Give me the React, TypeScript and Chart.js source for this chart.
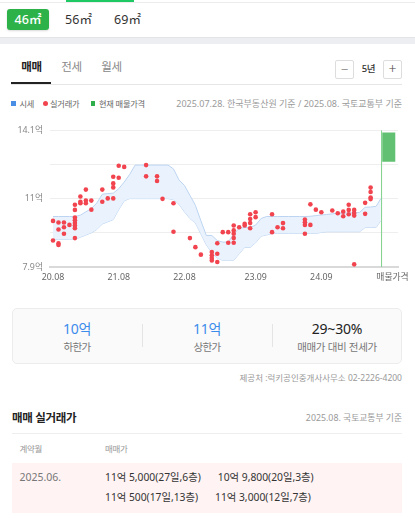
import React, { useEffect, useRef } from 'react';
import { Chart, registerables } from 'chart.js';

Chart.register(...registerables);

const FONT = "'Noto Sans', 'Noto Sans CJK KR', sans-serif";

// x axis: months since 2020.08 (0 = 20.08)
const xTickValues = [0, 12, 24, 37, 49, 62];
const xTickLabels = ['20.08', '21.08', '22.08', '23.09', '24.09', '매물가격'];
const yTickValues = [7.9, 9.45, 11, 12.55, 14.1];
const yTickLabels = ['7.9억', '', '11억', '', '14.1억'];
const yMin = 7.9;
const yMax = 14.1;

// 시세 band (억)
const bandMonths = [0, 1, 2, 3, 4, 5, 6, 7, 8, 9, 10, 11, 12, 13, 14, 15, 16, 17, 18, 19, 20, 21, 22, 23, 24, 25, 26, 27, 28, 29, 30, 31, 32, 33, 34, 35, 36, 37, 38, 39, 40, 41, 42, 43, 44, 45, 46, 47, 48, 49, 50, 51, 52, 53, 54, 55, 56, 57, 58, 59, 59.85];
const bandUpper = [10.19, 10.19, 10.19, 10.19, 10.19, 10.25, 10.4, 10.55, 10.8, 11.2, 11.23, 11.25, 11.45, 11.75, 12.1, 12.52, 12.52, 12.52, 12.52, 12.52, 12.52, 12.52, 12.35, 11.85, 11.6, 11.15, 10.7, 10.0, 9.33, 9.33, 9.1, 9.03, 9.03, 9.4, 9.65, 9.69, 9.69, 9.8, 10.1, 10.19, 10.19, 10.19, 10.19, 10.19, 10.19, 10.19, 10.19, 10.2, 10.23, 10.26, 10.28, 10.31, 10.35, 10.35, 10.35, 10.35, 10.38, 10.61, 10.62, 10.65, 11.0];
const bandLower = [9.15, 9.15, 9.15, 9.15, 9.15, 9.25, 9.35, 9.45, 9.6, 9.85, 9.95, 10.05, 10.5, 10.9, 11.0, 11.0, 11.0, 11.0, 11.0, 11.0, 11.0, 11.0, 10.95, 10.75, 10.4, 10.1, 9.9, 9.4, 8.9, 8.55, 8.3, 8.2, 8.2, 8.2, 8.5, 8.79, 8.79, 9.0, 9.3, 9.35, 9.42, 9.42, 9.42, 9.42, 9.42, 9.42, 9.42, 9.42, 9.42, 9.47, 9.5, 9.5, 9.5, 9.5, 9.5, 9.5, 9.5, 9.69, 9.69, 9.69, 10.0];

// 실거래가 (month index, price 억)
const tradeMonths = [
  0, 0,
  1, 1, 1, 1,
  2, 2, 2,
  3,
  4, 4, 4, 4, 4, 4, 4, 4,
  5, 5, 5,
  6, 6, 6,
  7, 7,
  9, 9,
  10,
  11, 11, 11, 11,
  12, 12,
  13,
  17, 17,
  19, 19,
  20,
  22, 22,
  25, 26, 27,
  29, 29, 29, 29,
  30, 30, 30,
  31,
  32, 32,
  33, 33, 33, 33, 33,
  34,
  35, 35,
  36, 36, 36, 36,
  37, 37,
  40, 40,
  41,
  42, 42,
  46, 46, 46, 46,
  47, 47,
  48, 49, 51, 52,
  53, 53,
  54, 54, 54,
  55, 55, 55, 55,
  57, 57,
  58, 58, 58, 58,
];
const tradePrices = [
  9.99, 9.1,
  9.92, 9.6, 8.97, 8.9,
  9.92, 9.7, 9.41,
  9.81,
  10.72, 10.49, 10.14, 10.02, 9.9, 9.78, 9.66, 9.21,
  11.1, 10.86, 10.79,
  11.41, 10.91, 10.79,
  10.91, 10.5,
  11.41, 10.86,
  11.01,
  11.99, 11.69, 11.51, 11.01,
  12.49, 11.95,
  12.44,
  12.52, 12.01,
  12.01, 11.8,
  10.99,
  10.79, 9.5,
  9.21, 8.8, 8.46,
  8.58, 8.43, 8.31, 8.2,
  8.98, 8.5, 8.13,
  9.48,
  9.48, 9.0,
  9.78, 9.56, 9.41, 9.21, 9.0,
  9.7,
  9.86, 9.78,
  10.29, 10.08, 9.89, 9.66,
  10.38, 10.16,
  10.29, 9.48,
  9.7,
  9.89, 9.66,
  10.05, 9.93, 9.81, 9.41,
  10.74, 9.81,
  10.5, 10.38, 10.46, 10.34,
  10.41, 10.2,
  10.72, 10.49, 10.29,
  10.49, 10.35, 10.23, 8.02,
  10.81, 10.31,
  11.5, 11.3, 11.05, 10.98,
];

// 현재 매물가격
const currentMonth = 60; // 2025.08
const listingLow = 12.67;
const listingHigh = 14.0;
const listingSpan = [60.1, 62.55];

// summary / table
const lowerLimit = '10억';
const upperLimit = '11억';
const jeonseRatio = '29~30%';
const dealMonth = '2025.06.';
const dealRows = [
  ['11억 5,000(27일,6층)', '10억 9,800(20일,3층)'],
  ['11억 500(17일,13층)', '11억 3,000(12일,7층)'],
];

function PriceChart() {
  const ref = useRef<HTMLCanvasElement>(null);
  useEffect(() => {
    const canvas = ref.current;
    if (!canvas) return;
    const tickFont = { size: 8.8, family: FONT };
    const chart = new Chart(canvas, {
      type: 'line',
      data: {
        datasets: [
          {
            label: '실거래가',
            data: tradeMonths.map((m, i) => ({ x: m, y: tradePrices[i] })),
            showLine: false,
            pointRadius: 2.3,
            pointBackgroundColor: '#f1444f',
            pointBorderWidth: 0,
            order: 0,
          },
          {
            label: '시세 상한',
            data: bandMonths.map((m, i) => ({ x: m, y: bandUpper[i] })),
            borderColor: '#bcd4f1',
            borderWidth: 1,
            pointRadius: 0,
            tension: 0,
            fill: '+1',
            backgroundColor: 'rgba(232,242,253,0.9)',
            order: 1,
          },
          {
            label: '시세 하한',
            data: bandMonths.map((m, i) => ({ x: m, y: bandLower[i] })),
            borderColor: '#bcd4f1',
            borderWidth: 1,
            pointRadius: 0,
            tension: 0,
            fill: false,
            order: 2,
          },
          {
            label: '현재',
            data: [{ x: currentMonth, y: yMin }, { x: currentMonth, y: yMax }],
            borderColor: '#7fd08a',
            borderWidth: 1,
            pointRadius: 0,
            fill: false,
            order: 3,
          },
          {
            label: '매물 상한',
            data: [{ x: listingSpan[0], y: listingHigh }, { x: listingSpan[1], y: listingHigh }],
            borderWidth: 0,
            borderColor: 'rgba(0,0,0,0)',
            pointRadius: 0,
            fill: '+1',
            backgroundColor: '#62c072',
            order: 4,
          },
          {
            label: '매물 하한',
            data: [{ x: listingSpan[0], y: listingLow }, { x: listingSpan[1], y: listingLow }],
            borderWidth: 0,
            borderColor: 'rgba(0,0,0,0)',
            pointRadius: 0,
            fill: false,
            order: 5,
          },
        ],
      },
      options: {
        animation: false,
        responsive: false,
        devicePixelRatio: 1,
        events: [],
        layout: { padding: { top: 11, right: 17, bottom: 0, left: 0 } },
        plugins: { legend: { display: false }, tooltip: { enabled: false } },
        scales: {
          x: {
            type: 'linear',
            min: -0.55,
            max: 63,
            offset: false,
            grid: { display: false, drawTicks: false },
            border: { display: true, color: '#d9d9d9', width: 2 },
            afterBuildTicks: (s: any) => {
              s.ticks = xTickValues.map((v) => ({ value: v }));
            },
            afterFit: (s: any) => {
              s.height = 23;
            },
            ticks: {
              autoSkip: false,
              maxRotation: 0,
              padding: 5,
              color: '#666',
              font: tickFont,
              callback: (_v: any, i: number) => xTickLabels[i],
            },
          },
          y: {
            type: 'linear',
            min: yMin,
            max: yMax,
            grid: { color: '#eeeeee', drawTicks: false },
            border: { display: false },
            afterBuildTicks: (s: any) => {
              s.ticks = yTickValues.map((v) => ({ value: v }));
            },
            afterFit: (s: any) => {
              s.width = 50;
            },
            ticks: {
              padding: 7,
              color: '#888',
              font: tickFont,
              callback: (_v: any, i: number) => yTickLabels[i],
            },
          },
        },
      } as any,
    });
    return () => chart.destroy();
  }, []);
  return (
    <canvas
      ref={ref}
      width={415}
      height={172}
      style={{ position: 'absolute', left: 0, top: 118, width: 415, height: 172 }}
    />
  );
}

type TxtProps = {
  x: number;
  y: number;
  size: number;
  color: string;
  weight?: number;
  align?: 'left' | 'right' | 'center';
  ls?: number;
  children: React.ReactNode;
};

function Txt({ x, y, size, color, weight = 400, align = 'left', ls = 0, children }: TxtProps) {
  const h = 20;
  const style: React.CSSProperties = {
    position: 'absolute',
    top: y - h / 2,
    height: h,
    lineHeight: h + 'px',
    fontSize: size,
    color,
    fontWeight: weight,
    letterSpacing: ls,
    whiteSpace: 'nowrap',
  };
  if (align === 'left') style.left = x;
  else if (align === 'right') style.right = 415 - x;
  else {
    style.left = x - 150;
    style.width = 300;
    style.textAlign = 'center';
  }
  return <div style={style}>{children}</div>;
}

function Box(props: { l: number; t: number; w: number; h: number; style?: React.CSSProperties; children?: React.ReactNode }) {
  return (
    <div style={{ position: 'absolute', left: props.l, top: props.t, width: props.w, height: props.h, boxSizing: 'border-box', ...props.style }}>
      {props.children}
    </div>
  );
}

export default function App() {
  return (
    <div style={{ position: 'relative', width: 415, height: 518, overflow: 'hidden', background: '#fff', fontFamily: FONT }}>
      <style>{'html,body{margin:0;padding:0;background:#fff;}'}</style>

      {/* top strip */}
      <Box l={0} t={2} w={415} h={1} style={{ background: '#ececec' }} />
      <Box l={66} t={0} w={68} h={2} style={{ background: '#1ec964' }} />

      {/* area pills */}
      <Box l={7} t={9} w={42} h={21} style={{ background: '#2db24a', borderRadius: 3, boxShadow: '0 1px 2px rgba(0,0,0,0.15)' }} />
      <Txt x={28} y={20} size={12.5} color="#fff" weight={500} align="center">46㎡</Txt>
      <Txt x={78.5} y={20} size={12.5} color="#333" align="center">56㎡</Txt>
      <Txt x={127.5} y={20} size={12.5} color="#333" align="center">69㎡</Txt>

      {/* gray separator */}
      <Box l={0} t={37} w={415} h={7} style={{ background: '#eceef1', borderTop: '1px solid #e2e4e7' }} />

      {/* tabs */}
      <Txt x={31.5} y={66.5} size={11.5} color="#222" weight={700} align="center" ls={-0.3}>매매</Txt>
      <Txt x={71.5} y={66.5} size={11.5} color="#888" align="center" ls={-0.3}>전세</Txt>
      <Txt x={111.5} y={66.5} size={11.5} color="#888" align="center" ls={-0.3}>월세</Txt>
      <Box l={11} t={84} w={391} h={1} style={{ background: '#e6e6e6' }} />
      <Box l={11} t={82} w={40} h={2} style={{ background: '#222' }} />

      {/* period control */}
      <Box l={335} t={60} w={19} h={19} style={{ border: '1px solid #dddddd', borderRadius: 2 }} />
      <Txt x={344.5} y={69} size={13} color="#999" align="center">−</Txt>
      <Txt x={368.5} y={69} size={9.5} color="#333" weight={500} align="center" ls={-0.4}>5년</Txt>
      <Box l={383} t={60} w={19} h={19} style={{ border: '1px solid #dddddd', borderRadius: 2 }} />
      <Txt x={392.5} y={69} size={14} color="#444" weight={300} align="center">+</Txt>

      {/* legend */}
      <Box l={11} t={101} w={4.5} h={4.5} style={{ background: '#4a8fe6' }} />
      <Txt x={19.5} y={103.5} size={8.2} color="#666" ls={-0.2}>시세</Txt>
      <Box l={42.5} t={100.8} w={5} h={5} style={{ background: '#f1444f', borderRadius: '50%' }} />
      <Txt x={50} y={103.5} size={8.2} color="#666" ls={-0.2}>실거래가</Txt>
      <Box l={90.5} t={101} w={4.5} h={4.5} style={{ background: '#2fae4b' }} />
      <Txt x={99} y={103.5} size={8.2} color="#666" ls={-0.2}>현재 매물가격</Txt>
      <Txt x={402} y={103.5} size={9} color="#9a9a9a" align="right">2025.07.28. 한국부동산원 기준 / 2025.08. 국토교통부 기준</Txt>

      <PriceChart />

      {/* summary box */}
      <Box l={12} t={308} w={390} h={56} style={{ background: '#fafafa', border: '1px solid #ececec', borderRadius: 5 }} />
      <Box l={142} t={324} w={1} h={23} style={{ background: '#e4e4e4' }} />
      <Box l={272} t={324} w={1} h={23} style={{ background: '#e4e4e4' }} />
      <Txt x={77} y={328.5} size={14} color="#3d8cec" align="center" ls={-0.3}>{lowerLimit}</Txt>
      <Txt x={77} y={347} size={10.5} color="#777" align="center" ls={-0.6}>하한가</Txt>
      <Txt x={207} y={328.5} size={14} color="#3d8cec" align="center" ls={-0.3}>{upperLimit}</Txt>
      <Txt x={207} y={347} size={10.5} color="#777" align="center" ls={-0.6}>상한가</Txt>
      <Txt x={337} y={328.5} size={14} color="#222" align="center" ls={-0.2}>{jeonseRatio}</Txt>
      <Txt x={337} y={347} size={10.5} color="#777" align="center" ls={-0.3}>매매가 대비 전세가</Txt>

      <Txt x={402} y={377.5} size={8.5} color="#999" align="right">제공처 :럭키공인중개사사무소 02-2226-4200</Txt>

      {/* 매매 실거래가 section */}
      <Txt x={12} y={418} size={11.5} color="#222" weight={700} ls={-0.3}>매매 실거래가</Txt>
      <Txt x={402} y={418} size={8.8} color="#999" align="right">2025.08. 국토교통부 기준</Txt>
      <Box l={12} t={433} w={390} h={1} style={{ background: '#eeeeee' }} />
      <Txt x={19.5} y={448.5} size={8.5} color="#999" ls={-0.3}>계약월</Txt>
      <Txt x={105} y={448.5} size={8.5} color="#999" ls={-0.3}>매매가</Txt>
      <Box l={12} t={463} w={390} h={50} style={{ background: '#fff3f3' }} />
      <Txt x={19.5} y={477} size={10.5} color="#777">{dealMonth}</Txt>
      {dealRows.map((row, r) => (
        <div
          key={r}
          style={{ position: 'absolute', left: 105, top: 477 + r * 20 - 10, height: 20, lineHeight: '20px', fontSize: 10.3, color: '#333', whiteSpace: 'nowrap' }}
        >
          {row.map((item, k) => (
            <span key={k} style={{ marginRight: 17 }}>{item}</span>
          ))}
        </div>
      ))}
    </div>
  );
}
